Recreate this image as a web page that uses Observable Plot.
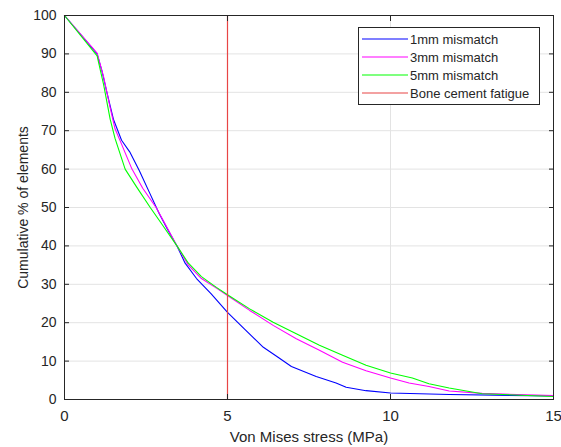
<!DOCTYPE html>
<html>
<head>
<meta charset="utf-8">
<script src="https://cdn.jsdelivr.net/npm/d3@7"></script>
<script src="https://cdn.jsdelivr.net/npm/@observablehq/plot@0.6"></script>
<style>
  body { margin: 0; background: #fff; font-family: "Liberation Sans", Arial, sans-serif; }
  #wrap { position: relative; width: 561px; height: 447px; }
  #legend { position: absolute; left: 358px; top: 27px; width: 182px; height: 78px; border: 1px solid #262626; background: #fff; box-sizing: border-box; font-size: 13px; color: #262626; padding-top: 2px; }
  .row { display: flex; align-items: center; height: 18px; }
  .sw { display: block; flex: none; margin-left: 3px; margin-right: 2px; }
</style>
</head>
<body>
<div id="wrap"></div>
<script>
const xTicks = [0, 5, 10, 15];
const yTicks = [0, 10, 20, 30, 40, 50, 60, 70, 80, 90, 100];
const seriesNames = ["1mm mismatch", "3mm mismatch", "5mm mismatch", "Bone cement fatigue"];
const seriesColors = ["#0000ff", "#ff00ff", "#00ff00", "#e84545"];
const fatigueLimit = [5];

const stress1 = [0, 1.0, 1.15, 1.3, 1.5, 1.75, 2.0, 2.3, 2.6, 2.9, 3.15, 3.45, 3.7, 4.05, 4.5, 5.0, 5.5, 6.1, 6.55, 6.96, 7.72, 8.33, 8.64, 9.25, 10, 11.8, 15];
const cum1    = [100, 90, 85.5, 80, 73, 67.5, 64.5, 59.5, 54, 48.5, 44.5, 40, 35.5, 31.5, 27.5, 22.7, 18.5, 13.6, 11, 8.6, 6, 4.3, 3.2, 2.3, 1.7, 1.3, 0.9];

const stress3 = [0, 1.0, 1.2, 1.4, 1.55, 1.75, 2.07, 2.4, 2.81, 3.1, 3.45, 3.8, 4.2, 4.66, 5.0, 5.68, 6.4, 7.11, 7.82, 8.53, 9.25, 10, 10.57, 11.18, 11.8, 12.81, 15];
const cum3    = [100, 90.2, 84, 76, 70.5, 66.5, 60, 55, 50, 45.5, 40, 35, 31.5, 29, 27.1, 23.2, 19.3, 15.8, 12.8, 9.7, 7.5, 5.6, 4.3, 3.4, 2.2, 1.6, 1.0];

const stress5 = [0, 1.0, 1.2, 1.4, 1.55, 1.86, 2.2, 2.63, 3.0, 3.45, 3.8, 4.2, 4.66, 5.0, 5.68, 6.4, 7.11, 7.82, 8.53, 9.25, 10, 10.67, 11.18, 11.8, 12.81, 15];
const cum5    = [100, 89.5, 82, 73, 68, 60, 55.5, 50, 45.5, 40, 35.5, 32, 29.2, 27.3, 23.6, 20.1, 17.1, 14.1, 11.5, 8.9, 6.9, 5.6, 4.1, 3.0, 1.5, 0.8];

const rows = [];
[[stress1, cum1], [stress3, cum3], [stress5, cum5]].forEach(([xs, ys], k) => {
  xs.forEach((x, i) => rows.push({series: seriesNames[k], x, y: ys[i]}));
});

const axisColor = "#262626";
const chart = Plot.plot({
  width: 561,
  height: 447,
  marginLeft: 64,
  marginRight: 8,
  marginTop: 15,
  marginBottom: 48,
  style: {fontFamily: "'Liberation Sans', Arial, sans-serif", fontSize: "14px", color: axisColor, background: "#fff"},
  x: {domain: [0, 15]},
  y: {domain: [0, 100]},
  color: {domain: seriesNames, range: seriesColors},
  marks: [
    Plot.gridX(xTicks, {stroke: "#e3e3e3", strokeOpacity: 1}),
    Plot.gridY(yTicks, {stroke: "#e3e3e3", strokeOpacity: 1}),
    Plot.line(rows, {x: "x", y: "y", z: "series", stroke: "series", strokeWidth: 1.1}),
    Plot.ruleX(fatigueLimit, {stroke: seriesColors[3], strokeWidth: 1.2}),
    Plot.frame({stroke: axisColor}),
    Plot.axisX(xTicks, {anchor: "bottom", tickSize: -5, tickPadding: 16, stroke: axisColor, fill: axisColor,
      label: "Von Mises stress (MPa)", labelAnchor: "center", labelArrow: "none", labelOffset: 42, fontSize: 15}),
    Plot.axisX(xTicks, {anchor: "top", tickSize: -5, tickFormat: () => "", label: null, stroke: axisColor}),
    Plot.axisY(yTicks, {anchor: "left", tickSize: -5, tickPadding: 13, stroke: axisColor, fill: axisColor,
      label: "Cumulative % of elements", labelAnchor: "center", labelArrow: "none", labelOffset: 46}),
    Plot.axisY(yTicks, {anchor: "right", tickSize: -5, tickFormat: () => "", label: null, stroke: axisColor})
  ]
});
const wrap = document.getElementById("wrap");
wrap.appendChild(chart);

const svgNS = "http://www.w3.org/2000/svg";
const legend = document.createElement("div");
legend.id = "legend";
seriesNames.forEach((name, i) => {
  const row = document.createElement("div");
  row.className = "row";
  const sw = document.createElementNS(svgNS, "svg");
  sw.setAttribute("class", "sw");
  sw.setAttribute("width", "46");
  sw.setAttribute("height", "4");
  const ln = document.createElementNS(svgNS, "line");
  ln.setAttribute("x1", "0"); ln.setAttribute("x2", "46");
  ln.setAttribute("y1", "2"); ln.setAttribute("y2", "2");
  ln.setAttribute("stroke", seriesColors[i]);
  ln.setAttribute("stroke-width", "1.2");
  sw.appendChild(ln);
  const t = document.createElement("span");
  t.textContent = name;
  row.appendChild(sw); row.appendChild(t);
  legend.appendChild(row);
});
wrap.appendChild(legend);
</script>
</body>
</html>
